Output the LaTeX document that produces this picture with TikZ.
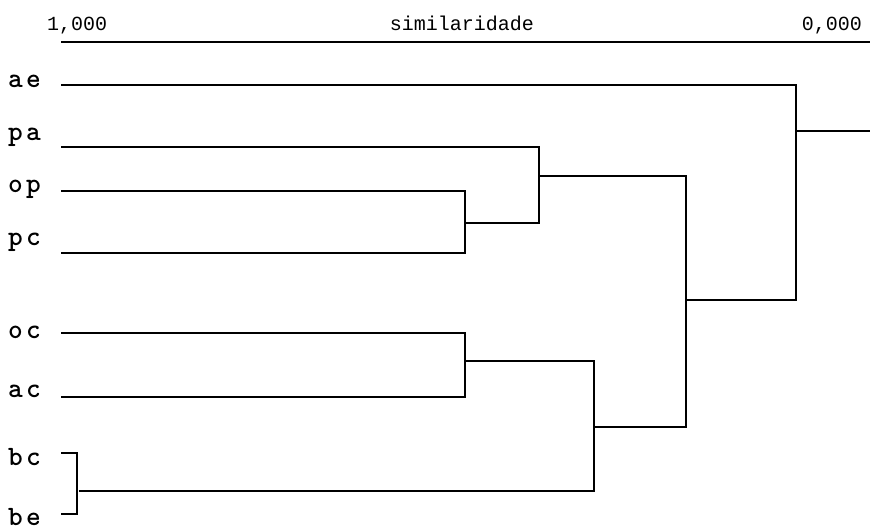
\documentclass[tikz,border=0pt]{standalone}
\usepackage{fontspec}
\newfontfamily\dendaxisfont{Liberation Mono}
\newfontfamily\dendleaffont[LetterSpace=12]{lmmonolt10-bold.otf}
\begin{document}
\begin{tikzpicture}[x=1pt, y=-1pt]
% Dendrogram of similarity between groups
\providecommand{\dendLineWidth}{1.6pt}
\providecommand{\dendLineColor}{black}
\tikzset{
  dendleaf/.style={anchor=base west, inner sep=0pt, font=\dendleaffont\fontsize{28}{28}\selectfont},
  dendaxis/.style={anchor=base, inner sep=0pt, font=\dendaxisfont\fontsize{20}{20}\selectfont},
  dendline/.style={draw=\dendLineColor, line width=\dendLineWidth, line cap=rect}
}
\useasboundingbox (0,0) rectangle (870,530);
% Axis header
\node[dendaxis, anchor=base west] (axmax) at (47,30) {1,000};
\node[dendaxis] (axtitle) at (462,30) {similaridade};
\node[dendaxis, anchor=base east] (axmin) at (862,30) {0,000};
\coordinate (axleft) at (62,42);
\coordinate (axright) at (870,42);
\draw[dendline] (axleft) -- (axright);
% Leaf labels
\node[dendleaf] (ae) at (8,87) {ae};
\node[dendleaf] (pa) at (8,140) {pa};
\node[dendleaf] (op) at (8,192) {op};
\node[dendleaf] (pc) at (8,245) {pc};
\node[dendleaf] (oc) at (8,338) {oc};
\node[dendleaf] (ac) at (8,397) {ac};
\node[dendleaf] (bc) at (8,465) {bc};
\node[dendleaf] (be) at (8,525) {be};
% Merge points
\coordinate (opS) at (62,191);  \coordinate (opE) at (465,191);
\coordinate (pcS) at (62,253);  \coordinate (pcE) at (465,253);
\coordinate (opj) at (465,223); \coordinate (opjE) at (539,223);
\coordinate (paS) at (62,147);  \coordinate (paE) at (539,147);
\coordinate (paj) at (539,176); \coordinate (pajE) at (686,176);
\coordinate (ocS) at (62,333);  \coordinate (ocE) at (465,333);
\coordinate (acS) at (62,397);  \coordinate (acE) at (465,397);
\coordinate (ocj) at (465,361); \coordinate (ocjE) at (594,361);
\coordinate (bcS) at (62,453);  \coordinate (bcE) at (77,453);
\coordinate (beS) at (62,514);  \coordinate (beE) at (77,514);
\coordinate (bcj) at (80,491);  \coordinate (bcjE) at (594,491);
\coordinate (ocjj) at (594,427); \coordinate (ocjjE) at (686,427);
\coordinate (midj) at (686,300); \coordinate (midjE) at (796,300);
\coordinate (aeS) at (62,85);   \coordinate (aeE) at (796,85);
\coordinate (root) at (796,131); \coordinate (rootE) at (870,131);
\begin{scope}[dendline]
  % Leaves
  \draw (aeS) -- (aeE);
  \draw (paS) -- (paE);
  \draw (opS) -- (opE) -- (pcE) -- (pcS);
  \draw (ocS) -- (ocE) -- (acE) -- (acS);
  \draw (bcS) -- (bcE) -- (beE) -- (beS);
  % Joins
  \draw (opj) -- (opjE);
  \draw (paE) -- (opjE);
  \draw (paj) -- (pajE) -- (ocjjE);
  \draw (ocj) -- (ocjE) -- (bcjE) -- (bcj);
  \draw (ocjj) -- (ocjjE);
  \draw (midj) -- (midjE);
  \draw (aeE) -- (midjE);
  \draw (root) -- (rootE);
\end{scope}
\end{tikzpicture}
\end{document}
